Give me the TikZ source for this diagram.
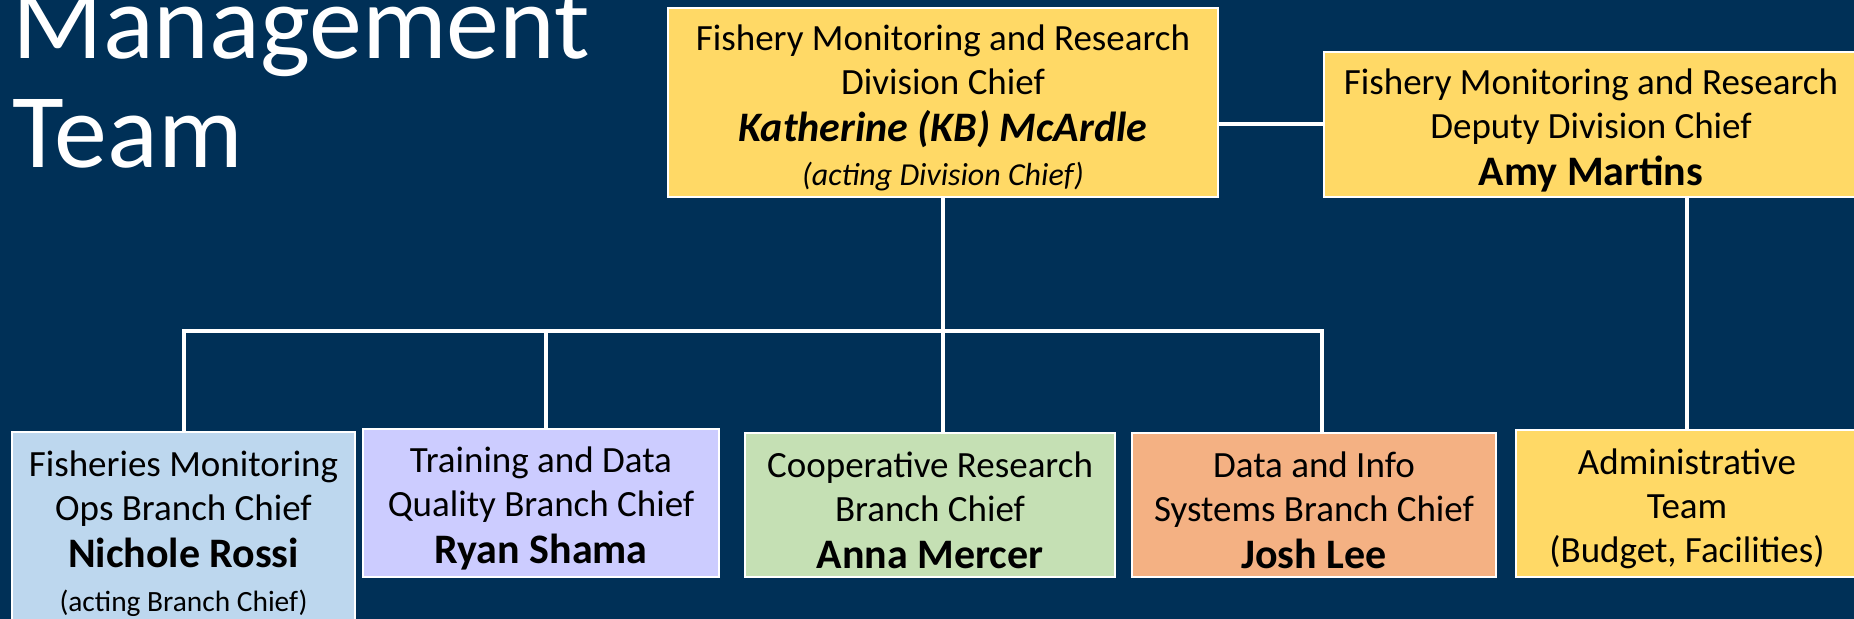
\documentclass[tikz,border=0pt]{standalone}
\usepackage{fontspec}
\setmainfont{Carlito}
\newlength{\du}
\setlength{\du}{0.5pt}
\definecolor{slidenavy}{RGB}{0,48,87}
\definecolor{chiefyellow}{RGB}{255,217,102}
\definecolor{opsblue}{RGB}{189,215,238}
\definecolor{qualitylilac}{RGB}{204,204,255}
\definecolor{coopgreen}{RGB}{197,224,180}
\definecolor{infosalmon}{RGB}{244,177,131}
\newcommand{\bossname}{\fontsize{21}{22}\selectfont\bfseries}
\newcommand{\actingnote}{\fontsize{14.7}{22}\selectfont}
% invisible head room, pushes the lines of a box down a little
\newcommand{\headroom}{\raisebox{5pt}{\vphantom{(}}}
\tikzset{
  unitbox/.style={draw=white, line width=2.4\du, inner sep=0pt, align=center,
    text=black, font=\fontsize{18.5}{22}\selectfont},
  wire/.style={draw=white, line width=4\du},
  slidetitle/.style={anchor=base west, inner sep=0pt, text=white,
    font=\fontsize{53}{54}\selectfont},
}

\begin{document}
\begin{tikzpicture}
\pgftransformxscale{1.000000}
\pgftransformyscale{-1.000000}
\fill[slidenavy] (0\du,0\du) rectangle (1854\du,619\du);
\useasboundingbox (0\du,0\du) rectangle (1854\du,619\du);
% title
\node[slidetitle] (titletop) at (12\du,59\du) {Management};
\node[slidetitle] (titlebottom) at (12\du,168\du) {Team};
% division level
\node[unitbox, fill=chiefyellow, minimum width=550\du, minimum height=189\du] (division) at (943\du,102.5\du)
  {\headroom Fishery Monitoring and Research\\Division Chief\\[1.5pt]{\bossname\itshape Katherine (KB) McArdle}\\{\fontsize{16}{22}\selectfont\itshape (acting Division Chief)}};
\node[unitbox, fill=chiefyellow, minimum width=534\du, minimum height=145\du] (deputy) at (1591\du,124.5\du)
  {\headroom Fishery Monitoring and Research\\Deputy Division Chief\\[1.5pt]{\bossname Amy Martins}};
% branches
\node[unitbox, fill=opsblue, minimum width=343\du, minimum height=192\du] (opsbranch) at (183.5\du,528\du)
  {\headroom Fisheries Monitoring\\Ops Branch Chief\\[1.5pt]{\bossname Nichole Rossi}\\{\actingnote (acting Branch Chief)}};
\node[unitbox, fill=qualitylilac, minimum width=356\du, minimum height=148\du] (qualitybranch) at (541\du,503\du)
  {\headroom Training and Data\\Quality Branch Chief\\[1.5pt]{\bossname Ryan Shama}};
\node[unitbox, fill=coopgreen, minimum width=370\du, minimum height=144\du] (coopbranch) at (930\du,505\du)
  {\headroom Cooperative Research\\Branch Chief\\[1.5pt]{\bossname Anna Mercer}};
\node[unitbox, fill=infosalmon, minimum width=364\du, minimum height=144\du] (infobranch) at (1314\du,505\du)
  {\headroom Data and Info\\Systems Branch Chief\\[1.5pt]{\bossname Josh Lee}};
\node[unitbox, fill=chiefyellow, minimum width=342\du, minimum height=147\du] (adminteam) at (1687\du,503.5\du)
  {\headroom Administrative\\Team\\(Budget, Facilities)};
% connectors
\coordinate (busleft) at (183\du,331\du);
\coordinate (busright) at (1322\du,331\du);
\coordinate (qualitydrop) at (546\du,331\du);
\draw[wire] (opsbranch.north) -- (opsbranch.north |- busleft) -- (busright) -- (busright |- infobranch.north);
\draw[wire] (qualitydrop) -- (qualitydrop |- qualitybranch.north);
\draw[wire] (division.south) -- (division.south |- coopbranch.north);
\draw[wire] (deputy.west -| division.east) -- (deputy.west);
\draw[wire] (adminteam.north) -- (adminteam.north |- deputy.south);
\end{tikzpicture}
\end{document}
